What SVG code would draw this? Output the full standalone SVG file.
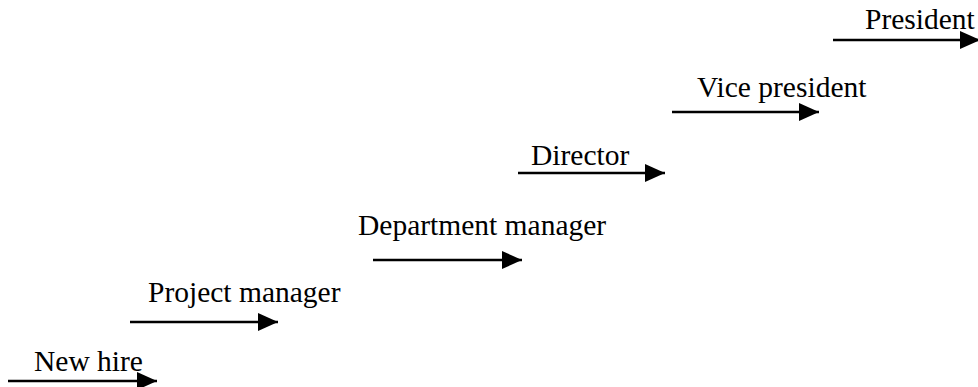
<svg xmlns="http://www.w3.org/2000/svg" width="978" height="387" viewBox="0 0 978 387">
<defs>
<marker id="ah" markerUnits="userSpaceOnUse" markerWidth="20" markerHeight="20" viewBox="0 0 20 20" refX="20" refY="10" orient="auto">
<polygon points="0,1 20,10 0,19" fill="#000"/>
</marker>
<style>
.lbl{font-family:"Liberation Serif","Times New Roman",serif;font-size:29.5px;fill:#000}
.con{stroke:#000;stroke-width:2.5;fill:none}
</style>
</defs>
<rect width="978" height="387" fill="#fff"/>
<g id="connectors">
<line class="con" x1="8" y1="381" x2="157" y2="381" marker-end="url(#ah)"/>
<line class="con" x1="130" y1="322" x2="278" y2="322" marker-end="url(#ah)"/>
<line class="con" x1="373" y1="260" x2="522" y2="260" marker-end="url(#ah)"/>
<line class="con" x1="518" y1="173" x2="665" y2="173" marker-end="url(#ah)"/>
<line class="con" x1="672" y1="112" x2="819" y2="112" marker-end="url(#ah)"/>
<line class="con" x1="833" y1="40" x2="980" y2="40" marker-end="url(#ah)"/>
</g>
<g id="new-hire"><text class="lbl" x="34" y="371">New hire</text></g>
<g id="project-manager"><text class="lbl" x="148" y="302">Project manager</text></g>
<g id="department-manager"><text class="lbl" x="358" y="235">Department manager</text></g>
<g id="director"><text class="lbl" x="531" y="165">Director</text></g>
<g id="vice-president"><text class="lbl" x="697" y="97">Vice president</text></g>
<g id="president"><text class="lbl" x="865" y="29">President</text></g>
</svg>
